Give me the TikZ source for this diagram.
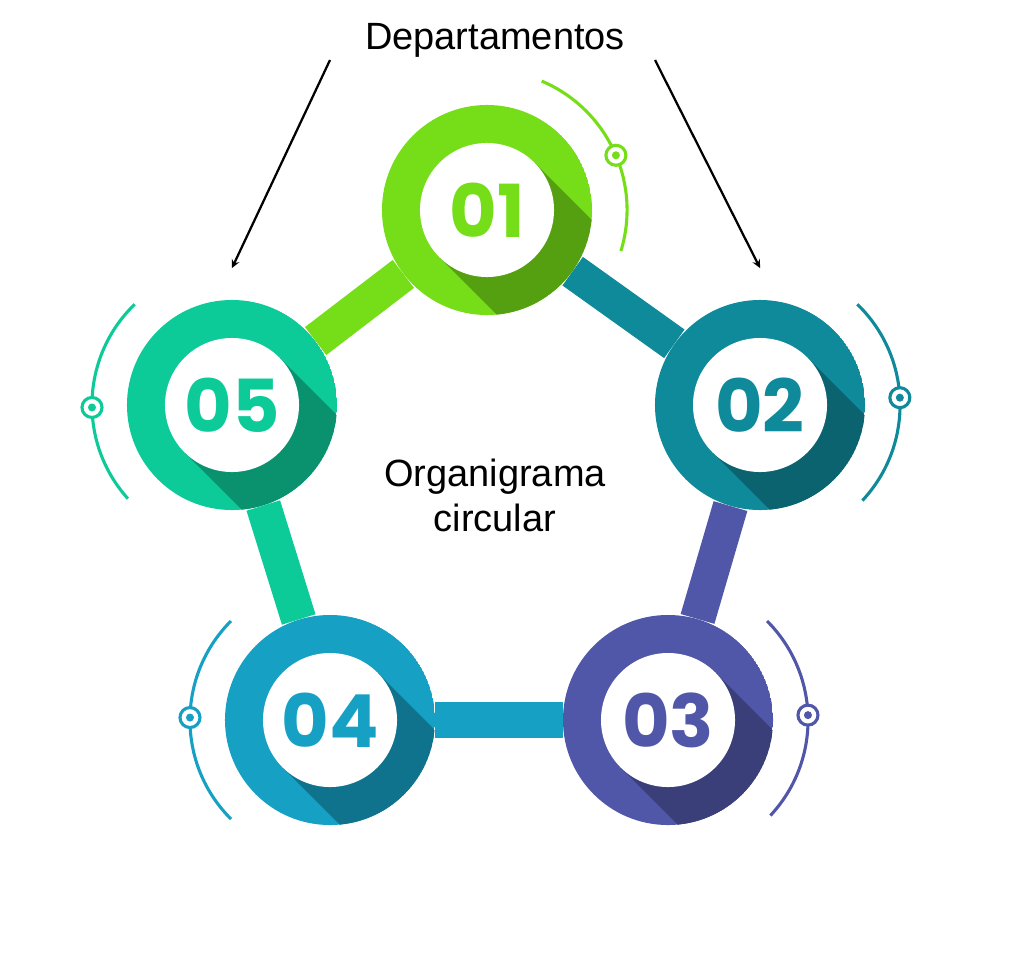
\documentclass[tikz,border=0pt]{standalone}
\usepackage{fontspec}
\setmainfont{Liberation Sans}
\newfontfamily\numfont{Poppins}
\usetikzlibrary{positioning,calc}
\definecolor{cone}{HTML}{76DE18}
\definecolor{ctwo}{HTML}{0E8A9A}
\definecolor{cthree}{HTML}{5157A8}
\definecolor{cfour}{HTML}{16A0C4}
\definecolor{cfive}{HTML}{0DCB98}
\tikzset{
  ring/.style={circle, minimum size=5.25cm, inner sep=0pt},
  bar/.style={line width=25pt},
  deco/.style={line width=2.2pt},
  caption/.style={font=\fontsize{27}{32}\selectfont, align=center},
  number/.style={font=\numfont\bfseries\fontsize{52}{52}\selectfont}
}
% ring with shadow: name, colour
\newcommand{\ringshadow}[2]{%
  \begin{scope}
    \clip (#1.center) circle (2.625cm);
    \fill[#2] (#1.center) circle (2.625cm);
    \fill[#2!72!black] ($(#1.center)+(45:1.675cm)$) -- ++(-45:8cm)
      -- ($(#1.center)+(-135:1.675cm)+(-45:8cm)$) -- ($(#1.center)+(-135:1.675cm)$) -- cycle;
  \end{scope}}
% white centre with number
\newcommand{\ringcentre}[3]{%
  \fill[white] (#1.center) circle (1.675cm);
  \node[number, text=#2] at (#1.center) {#3};}
% decorative arc: node, colour, start, end, marker angle
\newcommand{\ringarc}[5]{%
  \draw[deco, #2] ([shift={(#3:3.5cm)}]#1.center) arc[start angle=#3, end angle=#4, radius=3.5cm];
  \fill[white, draw=#2, line width=2.2pt] ([shift={(#5:3.5cm)}]#1.center) circle (0.25cm);
  \fill[#2] ([shift={(#5:3.5cm)}]#1.center) circle (0.1cm);}
\begin{document}
\begin{tikzpicture}[x=0.025cm, y=-0.025cm]
  \useasboundingbox[fill=white] (0,0) rectangle (1010,954);

  % ring positions
  \node[ring] (n1) at (487,210) {};
  \node[ring] (n2) at (760,405) {};
  \node[ring] (n3) at (668,720) {};
  \node[ring] (n4) at (330,720) {};
  \node[ring] (n5) at (232,405) {};

  % outer rings
  \ringshadow{n1}{cone}
  \ringshadow{n2}{ctwo}
  \ringshadow{n3}{cthree}
  \ringshadow{n4}{cfour}
  \ringshadow{n5}{cfive}

  % connecting bars
  \draw[bar, ctwo] (n1) -- (n2);
  \draw[bar, cthree] (n2) -- (n3);
  \draw[bar, cfour] (n3) -- (n4);
  \draw[bar, cfive] (n4) -- (n5);
  \draw[bar, cone] (n5) -- (n1);

  % centres
  \ringcentre{n1}{cone}{01}
  \ringcentre{n2}{ctwo}{02}
  \ringcentre{n3}{cthree}{03}
  \ringcentre{n4}{cfour}{04}
  \ringcentre{n5}{cfive}{05}

  % side arcs
  \ringarc{n1}{cone}{67}{-17}{23}
  \ringarc{n2}{ctwo}{46}{-43}{3}
  \ringarc{n3}{cthree}{45}{-43}{2}
  \ringarc{n4}{cfour}{135}{225}{179}
  \ringarc{n5}{cfive}{134}{222}{181}

  % captions
  \node[caption] (centre) at (495,495) {Organigrama\\circular};
  \node[caption] (dept) at (495,40) {Departamentos};
  \coordinate (leftend) at (232,268);
  \coordinate (rightend) at (760,268);
  \draw[line width=1.6pt, -stealth] (330,60) -- (leftend);
  \draw[line width=1.6pt, -stealth] (655,60) -- (rightend);
\end{tikzpicture}
\end{document}
